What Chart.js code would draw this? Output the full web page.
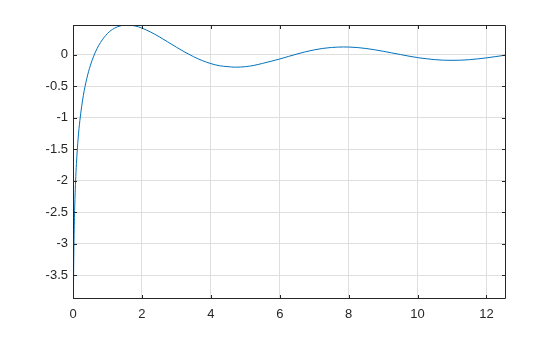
<!DOCTYPE html>
<html>
<head>
<meta charset="utf-8">
<script src="https://cdn.jsdelivr.net/npm/chart.js@4.4.0/dist/chart.umd.min.js"></script>
<style>
  body { margin: 0; background: #fff; }
  #wrap { width: 560px; height: 337px; }
</style>
</head>
<body>
<div id="wrap"><canvas id="myChart" width="560" height="337"></canvas></div>
<script>
// values
let xs = [0.0116, 0.02, 0.03, 0.05, 0.075, 0.1, 0.15, 0.2, 0.3, 0.4, 0.5, 0.6, 0.7, 0.8, 1.0,
  1.2, 1.4, 1.57, 1.8, 2.0, 2.25, 2.5, 2.75, 3.0, 3.25, 3.5, 3.75, 4.0, 4.25, 4.5, 4.712,
  5.0, 5.25, 5.5, 5.75, 6.0, 6.25, 6.5, 6.75, 7.0, 7.25, 7.5, 7.854, 8.0, 8.25, 8.5, 8.75,
  9.0, 9.25, 9.5, 9.75, 10.0, 10.25, 10.5, 10.75, 11.0, 11.25, 11.5, 11.75, 12.0, 12.25, 12.566];
let ys = [-3.88, -3.335, -2.93, -2.419, -2.014, -1.728, -1.326, -1.042, -0.649, -0.379, -0.178, -0.023, 0.099, 0.196, 0.337,
  0.420, 0.462, 0.472, 0.457, 0.423, 0.361, 0.286, 0.203, 0.120, 0.040, -0.032, -0.093, -0.141, -0.175, -0.190, -0.198,
  -0.190, -0.170, -0.138, -0.104, -0.068, -0.028, 0.011, 0.047, 0.077, 0.100, 0.115, 0.123, 0.122, 0.114, 0.099, 0.079,
  0.055, 0.029, 0.003, -0.023, -0.046, -0.064, -0.078, -0.087, -0.089, -0.087, -0.079, -0.066, -0.050, -0.031, -0.006];

let xTicks = [0, 2, 4, 6, 8, 10, 12];
let yTicks = [-3.5, -3, -2.5, -2, -1.5, -1, -0.5, 0];

const axisColor = '#262626';
const fontSpec = { family: "'Liberation Sans', Arial, Helvetica, sans-serif", size: 13 };

/***** box and inward tick marks, like the original plot *****/
const boxTicks = {
  id: 'boxTicks',
  afterDraw(chart) {
    const ctx = chart.ctx;
    const a = chart.chartArea;
    const xs_ = chart.scales.x, ys_ = chart.scales.y;
    const len = 4;
    ctx.save();
    ctx.strokeStyle = axisColor;
    ctx.lineWidth = 1;
    ctx.beginPath();
    ctx.rect(Math.round(a.left) + 0.5, Math.round(a.top) + 0.5,
      Math.round(a.right - a.left) - 1, Math.round(a.bottom - a.top) - 1);
    xTicks.forEach(v => {
      const px = Math.round(xs_.getPixelForValue(v)) + 0.5;
      ctx.moveTo(px, a.bottom); ctx.lineTo(px, a.bottom - len);
      ctx.moveTo(px, a.top); ctx.lineTo(px, a.top + len);
    });
    yTicks.forEach(v => {
      const py = Math.round(ys_.getPixelForValue(v)) + 0.5;
      ctx.moveTo(a.left, py); ctx.lineTo(a.left + len, py);
      ctx.moveTo(a.right, py); ctx.lineTo(a.right - len, py);
    });
    ctx.stroke();
    ctx.restore();
  }
};

const data = {
  datasets: [{
    data: xs.map((x, i) => ({ x: x, y: ys[i] })),
    showLine: true,
    borderColor: '#0072BD',
    borderWidth: 1,
    pointRadius: 0,
    fill: false,
    cubicInterpolationMode: 'monotone'
  }]
};

const config = {
  type: 'scatter',
  data: data,
  options: {
    responsive: false,
    animation: false,
    layout: { padding: { left: 0, top: 25, right: 54, bottom: 0 } },
    plugins: { legend: { display: false }, tooltip: { enabled: false } },
    scales: {
      x: {
        type: 'linear',
        min: 0,
        max: 12.566,
        afterBuildTicks: s => { s.ticks = xTicks.map(v => ({ value: v })); },
        afterFit: s => { s.height = 38; },
        grid: { color: '#dfdfdf', lineWidth: 1, drawTicks: false },
        border: { display: false },
        ticks: { color: axisColor, font: fontSpec, padding: 8, maxRotation: 0, callback: v => String(v) }
      },
      y: {
        type: 'linear',
        min: -3.88,
        max: 0.472,
        afterBuildTicks: s => { s.ticks = yTicks.map(v => ({ value: v })); },
        afterFit: s => { s.width = 73; },
        grid: { color: '#dfdfdf', lineWidth: 1, drawTicks: false },
        border: { display: false },
        ticks: { color: axisColor, font: fontSpec, padding: 5, callback: v => String(v) }
      }
    }
  },
  plugins: [boxTicks]
};

const myChart = new Chart(document.getElementById('myChart'), config);
</script>
</body>
</html>
